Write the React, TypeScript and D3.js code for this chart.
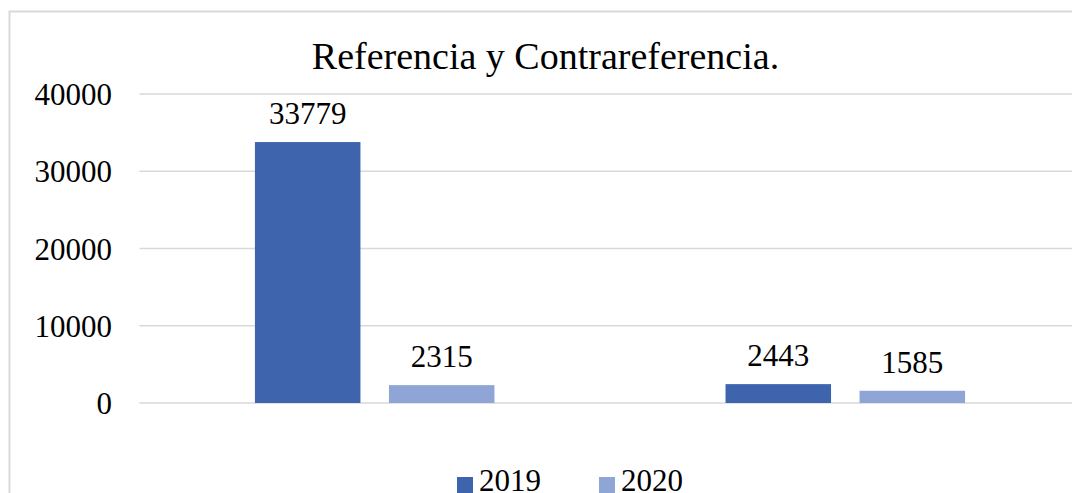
import React from "react";
import * as d3 from "d3";

const categories = ["Referencia", "Contrareferencia"];
const seriesNames = ["2019", "2020"];
const values2019 = [33779, 2443];
const values2020 = [2315, 1585];
const yTicks = [0, 10000, 20000, 30000, 40000];
const title = "Referencia y Contrareferencia.";

const colors = ["#3E64AD", "#8FA5D5"];
const FONT = "'Liberation Serif', 'Times New Roman', 'DejaVu Serif', serif";

export default function App() {
  const W = 1072;
  const H = 493;
  const plotLeft = 139.4;
  const plotRight = 1080.6;
  const y = d3.scaleLinear().domain([0, 40000]).range([403, 94]);
  const x0 = d3
    .scaleBand<string>()
    .domain(categories)
    .range([plotLeft, plotRight])
    .paddingInner(0.491)
    .paddingOuter(0.2455);
  const x1 = d3
    .scaleBand<string>()
    .domain(seriesNames)
    .range([0, x0.bandwidth()])
    .paddingInner(0.2127)
    .paddingOuter(0);
  const series = [values2019, values2020];
  const ts = { fontFamily: FONT };

  return (
    <svg
      width={W}
      height={H}
      style={{ position: "absolute", left: 0, top: 0, background: "#fff" }}
    >
      <rect x={0} y={0} width={W} height={H} fill="#fff" />
      <rect
        x={9.5}
        y={11.5}
        width={W + 20}
        height={H + 20}
        fill="none"
        stroke="#D9D9D9"
        strokeWidth={2}
      />
      <text x={545.5} y={69} textAnchor="middle" fontSize={38} fill="#000" style={ts}>
        {title}
      </text>
      {yTicks.map((t) => (
        <g key={t}>
          <line
            x1={plotLeft}
            x2={plotRight}
            y1={y(t)}
            y2={y(t)}
            stroke="#D9D9D9"
            strokeWidth={1.5}
          />
          <text x={112} y={y(t) + 11} textAnchor="end" fontSize={31} fill="#000" style={ts}>
            {String(t)}
          </text>
        </g>
      ))}
      {categories.map((c, ci) => (
        <g key={c}>
          {seriesNames.map((s, si) => {
            const v = series[si][ci];
            const bx = (x0(c) ?? 0) + (x1(s) ?? 0);
            const bw = x1.bandwidth();
            return (
              <g key={s}>
                <rect
                  x={bx}
                  y={y(v)}
                  width={bw}
                  height={y(0) - y(v)}
                  fill={colors[si]}
                />
                <text
                  x={bx + bw / 2}
                  y={y(v) - 18}
                  textAnchor="middle"
                  fontSize={31}
                  fill="#000"
                  style={ts}
                >
                  {String(v)}
                </text>
              </g>
            );
          })}
        </g>
      ))}
      {seriesNames.map((s, si) => {
        const lx = [457, 599][si];
        return (
          <g key={s}>
            <rect x={lx} y={477} width={16} height={16} fill={colors[si]} />
            <text x={lx + 22} y={491} fontSize={31} fill="#000" style={ts}>
              {s}
            </text>
          </g>
        );
      })}
    </svg>
  );
}
